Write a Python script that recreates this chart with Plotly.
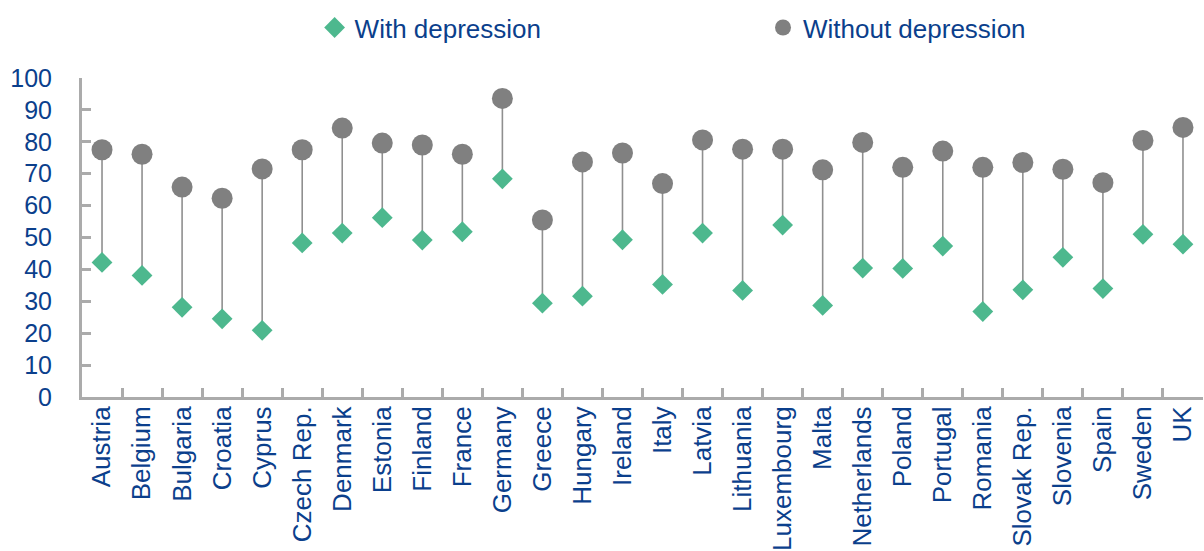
import plotly.graph_objects as go

countries = ["Austria", "Belgium", "Bulgaria", "Croatia", "Cyprus", "Czech Rep.",
             "Denmark", "Estonia", "Finland", "France", "Germany", "Greece",
             "Hungary", "Ireland", "Italy", "Latvia", "Lithuania", "Luxembourg",
             "Malta", "Netherlands", "Poland", "Portugal", "Romania", "Slovak Rep.",
             "Slovenia", "Spain", "Sweden", "UK"]

with_depression = [42.2, 38.1, 28.1, 24.5, 20.9, 48.3, 51.4, 56.2, 49.2, 51.8,
                   68.4, 29.4, 31.6, 49.3, 35.3, 51.4, 33.4, 53.9, 28.7, 40.4,
                   40.3, 47.3, 26.8, 33.6, 43.8, 34.0, 51.0, 47.9]

without_depression = [77.5, 76.1, 65.8, 62.3, 71.5, 77.5, 84.3, 79.6, 79.0, 76.1,
                      93.6, 55.5, 73.7, 76.5, 66.9, 80.6, 77.7, 77.7, 71.2, 79.8,
                      72.0, 77.1, 72.0, 73.5, 71.4, 67.2, 80.4, 84.5]

y_ticks = [0, 10, 20, 30, 40, 50, 60, 70, 80, 90, 100]

TEXT = "#0b3f8c"
AXIS = "#ababab"
GREEN = "#4db88e"
GREY = "#808080"
FONT = "Liberation Sans, Arial, sans-serif"

# vertical connectors between the two values of each country
stem_x, stem_y = [], []
for c, lo, hi in zip(countries, with_depression, without_depression):
    stem_x += [c, c, None]
    stem_y += [lo, hi, None]

fig = go.Figure()
fig.add_trace(go.Scatter(x=stem_x, y=stem_y, mode="lines",
                         line=dict(color="#8f8f8f", width=1.6),
                         showlegend=False, hoverinfo="skip"))
fig.add_trace(go.Scatter(x=countries, y=with_depression, mode="markers",
                         name="With depression", legend="legend",
                         marker=dict(symbol="diamond", size=16, color=GREEN)))
fig.add_trace(go.Scatter(x=countries, y=without_depression, mode="markers",
                         name="Without depression", legend="legend2",
                         marker=dict(symbol="circle", size=21, color=GREY)))

legend_common = dict(orientation="h", yanchor="middle", y=1.158, xanchor="left",
                     bgcolor="rgba(0,0,0,0)", font=dict(family=FONT, size=26, color=TEXT))

fig.update_layout(
    width=1204, height=551,
    margin=dict(l=82, r=1, t=78, b=154, autoexpand=False),
    paper_bgcolor="white", plot_bgcolor="white",
    font=dict(family=FONT, color=TEXT),
    legend=dict(x=0.2075, **legend_common),
    legend2=dict(x=0.6075, **legend_common),
    xaxis=dict(type="category", categoryorder="array", categoryarray=countries,
               range=[-0.5, len(countries) - 0.5], automargin=False,
               showline=True, linecolor=AXIS, linewidth=3,
               ticks="inside", tickson="boundaries", ticklen=9, tickwidth=3, tickcolor=AXIS,
               tickangle=-90, ticklabelstandoff=-4,
               tickfont=dict(family=FONT, size=26, color=TEXT),
               showgrid=False, zeroline=False),
    yaxis=dict(range=[0, 100], tickmode="array", tickvals=y_ticks,
               ticktext=[str(v) for v in y_ticks], automargin=False,
               showline=True, linecolor=AXIS, linewidth=3,
               ticks="inside", ticklen=9, tickwidth=3, tickcolor=AXIS,
               ticklabelstandoff=22,
               tickfont=dict(family=FONT, size=25, color=TEXT),
               showgrid=False, zeroline=False),
)

fig.write_html("out.html")
